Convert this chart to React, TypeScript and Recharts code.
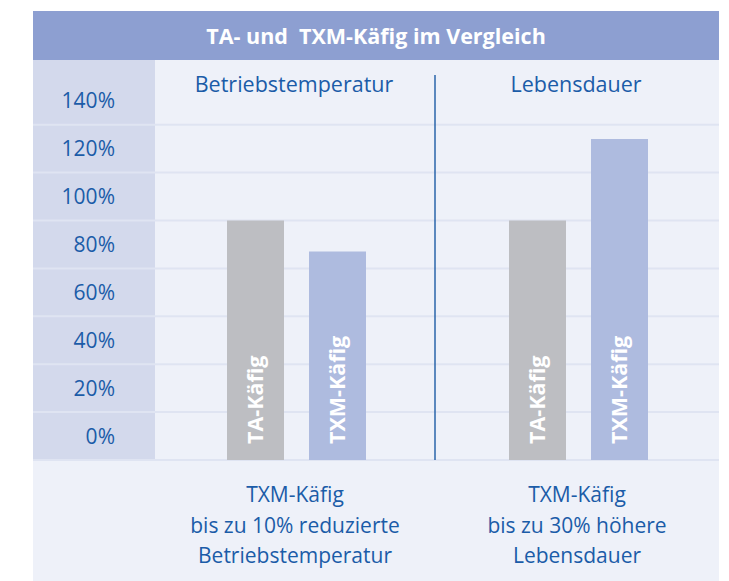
import React from 'react'
import { BarChart, Bar, XAxis, YAxis, CartesianGrid, ReferenceLine, LabelList } from 'recharts'

const categories = ['Betriebstemperatur', 'Lebensdauer']
const captions = [
  ['TXM-Käfig', 'bis zu 10% reduzierte', 'Betriebstemperatur'],
  ['TXM-Käfig', 'bis zu 30% höhere', 'Lebensdauer'],
]
const seriesNames = ['TA-Käfig', 'TXM-Käfig']
const taValues = [90, 90]
const txmValues = [77, 124]
const yTicks = [0, 20, 40, 60, 80, 100, 120, 140]
const gridValues = [-10, 10, 30, 50, 70, 90, 110, 130]
const AXIS_FLOOR = -10
const AXIS_TOP = 157

const BLUE = '#1b5ca8'
const FONT = '"Open Sans", "Noto Sans", sans-serif'

const rows = categories.map((c, i) => ({
  category: c,
  ta: [AXIS_FLOOR, taValues[i]],
  txm: [AXIS_FLOOR, txmValues[i]],
}))

// grid rows sit between the tick labels, so map them through the axis range
const gridCoords = ({ yAxis, offset }: any) => {
  const s = yAxis && yAxis.scale
  if (typeof s === 'function') return gridValues.map((v) => s(v))
  if (s && typeof s.map === 'function') return gridValues.map((v) => s.map(v))
  return gridValues.map((v) => offset.top + (offset.height * (AXIS_TOP - v)) / (AXIS_TOP - AXIS_FLOOR))
}

const YTick = (props: any) => (
  <text x={115} y={props.y} dy="0.36em" textAnchor="end" fill={BLUE} fontSize={21} fontFamily={FONT}>
    {props.payload.value}%
  </text>
)

const TopTick = (props: any) => (
  <text x={props.x - 2} y={92} textAnchor="middle" fill={BLUE} fontSize={21.5} fontFamily={FONT}>
    {props.payload.value}
  </text>
)

const BottomTick = (props: any) => {
  const lines = captions[props.index] || []
  return (
    <text x={props.x} y={502} textAnchor="middle" fill={BLUE} fontSize={21} fontFamily={FONT}>
      {lines.map((l, i) => (
        <tspan key={i} x={props.x - 1} dy={i === 0 ? 0 : 30.5}>{l}</tspan>
      ))}
    </text>
  )
}

const barLabel = (name: string) => (props: any) => {
  const { x, y, width, height } = props
  const cx = x + width / 2
  const by = y + height - 16
  return (
    <text
      x={cx}
      y={by}
      dy="0.36em"
      transform={`rotate(-90 ${cx} ${by})`}
      fill="#ffffff"
      fontSize={21.5}
      fontWeight={700}
      fontFamily={FONT}
    >
      {name}
    </text>
  )
}

const Divider = (props: any) => {
  const top = Math.min(props.y1, props.y2)
  const bottom = Math.max(props.y1, props.y2)
  return <line x1={props.x1 - 2} x2={props.x2 - 2} y1={top + 15} y2={bottom} stroke="#2a64aa" strokeWidth={1.5} />
}

export default function App() {
  return (
    <div style={{ position: 'absolute', left: 0, top: 0, width: 729, height: 581, background: '#fff' }}>
      <div style={{ position: 'absolute', left: 33, top: 11, width: 686, height: 570, background: '#eef1f9' }} />
      <div
        style={{
          position: 'absolute', left: 33, top: 11, width: 686, height: 49, background: '#8d9fd1',
          color: '#fff', fontFamily: FONT, fontWeight: 700, fontSize: 21.5, lineHeight: '50px', textAlign: 'center',
          whiteSpace: 'pre',
        }}
      >
        {'TA- und  TXM-Käfig im Vergleich'}
      </div>
      <div style={{ position: 'absolute', left: 33, top: 60, width: 122, height: 400, background: '#d3d9ec' }} />
      <div style={{ position: 'absolute', left: 0, top: 0 }}>
        <BarChart
          width={729}
          height={581}
          data={rows}
          margin={{ top: 11, right: 10, bottom: 0, left: 33 }}
          barSize={57}
          barGap={25}
        >
          <CartesianGrid
            x={33}
            width={686}
            vertical={false}
            stroke="#dfe4f2"
            strokeWidth={2}
            horizontalCoordinatesGenerator={gridCoords}
          />
          <XAxis dataKey="category" height={121} axisLine={false} tickLine={false} tick={BottomTick} interval={0} />
          <XAxis xAxisId="top" orientation="top" dataKey="category" height={49} axisLine={false} tickLine={false} tick={TopTick} interval={0} />
          <YAxis
            type="number"
            domain={[AXIS_FLOOR, AXIS_TOP]}
            ticks={yTicks}
            width={122}
            axisLine={false}
            tickLine={false}
            tick={YTick}
          />
          <ReferenceLine x={categories[1]} position="start" shape={Divider} />
          <Bar dataKey="ta" fill="#bdbec2" isAnimationActive={false}>
            <LabelList content={barLabel(seriesNames[0])} />
          </Bar>
          <Bar dataKey="txm" fill="#aebbdf" isAnimationActive={false}>
            <LabelList content={barLabel(seriesNames[1])} />
          </Bar>
        </BarChart>
      </div>
    </div>
  )
}
